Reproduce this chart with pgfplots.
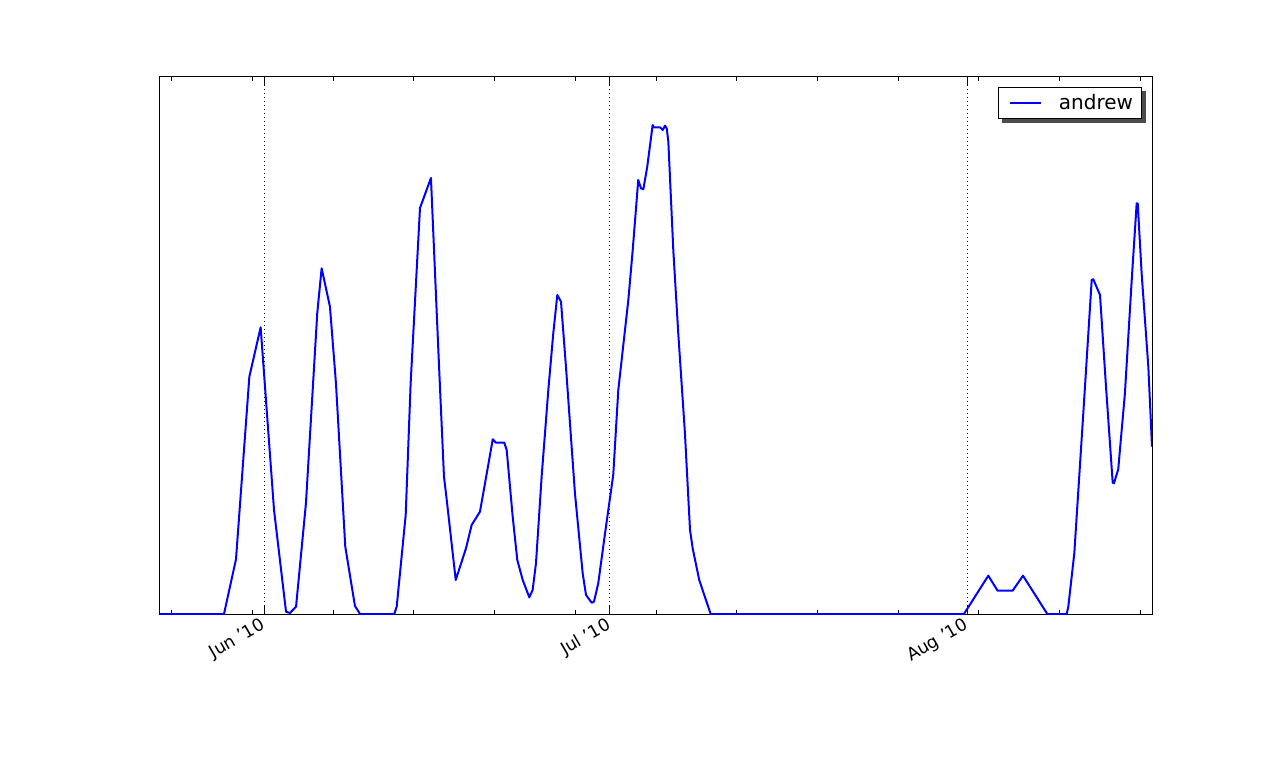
\documentclass[border=0pt]{standalone}
\usepackage{fontspec}
\setmainfont{DejaVu Sans}
\usepackage{pgfplots}
\pgfplotsset{compat=1.18}
\usetikzlibrary{backgrounds}

% x: days after 1 Jun 2010, y: value (no scale shown)
\pgfplotstableread{
day value
-9.02 0
-3.47 0
-2.43 54.7
-1.27 237.3
-0.29 286.7
0.87 104
1.91 2.3
2.25 1
2.78 7.3
3.64 111
4.62 301
5.00 345.7
5.72 307.3
6.24 231
7.05 67.3
7.89 8
8.33 0
11.30 0
11.51 7.3
12.29 99
12.72 231
13.53 406
14.48 436
15.12 264
15.61 137.3
15.85 114
16.63 34
17.52 65.7
18.01 89
18.73 102.3
19.17 130.7
19.84 174.7
20.12 171.3
20.84 171.3
21.05 164
21.57 97.3
21.97 54
22.44 34
23.01 16.7
23.30 24
23.59 50.7
24.08 137.3
24.66 224
25.09 280.7
25.44 319
25.76 312.3
26.19 247.3
26.97 120.7
27.64 40.7
27.93 19
28.42 11.3
28.62 12.3
28.99 30.7
29.58 80.7
30.29 139
30.73 224
31.60 314
31.98 364
32.46 434
32.70 425.7
32.90 424.7
33.24 447.3
33.71 489
33.82 486.7
34.35 486.7
34.58 484
34.78 488.3
34.93 485.7
35.07 472.3
35.50 364
35.93 280.7
36.51 180.7
36.95 84
37.18 65.7
37.75 34
38.74 0
60.71 0
62.82 38.3
63.63 23.3
64.93 23.3
65.83 38.3
67.94 0
69.62 0
69.76 7.3
70.28 60.7
71.06 200.7
71.79 334
71.93 334.7
72.51 319
73.03 227.3
73.61 131.3
73.72 130.7
74.09 144.7
74.67 220.7
75.26 334
75.69 410.7
75.78 410.7
76.12 340.7
76.70 247.3
77.02 167.3
}\andrew

\begin{document}
\begin{tikzpicture}
\begin{axis}[
    scale only axis,
    width=744pt, height=402.75pt,
    xmin=-9.02, xmax=77.02,
    ymin=0, ymax=537,
    axis line style={line width=0.75pt},
    ytick=\empty,
    xtick={0,30,61},
    xticklabels={Jun '10,Jul '10,Aug '10},
    minor xtick={-8,-1,6,13,20,27,34,41,48,55,62,69,76},
    tick align=inside,
    xtick pos=both,
    major tick length=6pt,
    minor tick length=3pt,
    tick style={black, line width=0.6pt},
    xmajorgrids,
    major grid style={black, line width=0.6pt, dash pattern=on 0.75pt off 2.25pt},
    xticklabel style={rotate=30, anchor=north east, font=\fontsize{13}{15}\selectfont, inner sep=0pt, xshift=-4pt},
    xticklabel shift=0pt,
    legend style={name=leg, at={(0.99,0.981)}, anchor=north east, draw=black, line width=0.75pt,
        fill=white, font=\fontsize{15}{17}\selectfont,
        inner xsep=5pt, inner ysep=3.65pt, column sep=11.25pt,
        nodes={inner sep=1.5pt}},
    legend cell align=left,
    legend image code/.code={\path[draw=none] (0pt,0pt) -- (3.25pt,0pt);\draw[#1] (3.25pt,0pt) -- (26.5pt,0pt);},
]
\addplot[blue, line width=1.5pt, line join=round] table[x=day, y=value] {\andrew};
\addlegendentry{andrew}
\coordinate (o) at (rel axis cs:0,0);
\end{axis}
\begin{scope}[on background layer]
\fill[black!70] ([shift={(3pt,-3pt)}]leg.south west) rectangle ([shift={(3pt,-3pt)}]leg.north east);
\end{scope}
\pgfresetboundingbox
\path[use as bounding box] ([shift={(-120pt,-115.5pt)}]o) rectangle ++(960pt,576pt);
\end{tikzpicture}
\end{document}
